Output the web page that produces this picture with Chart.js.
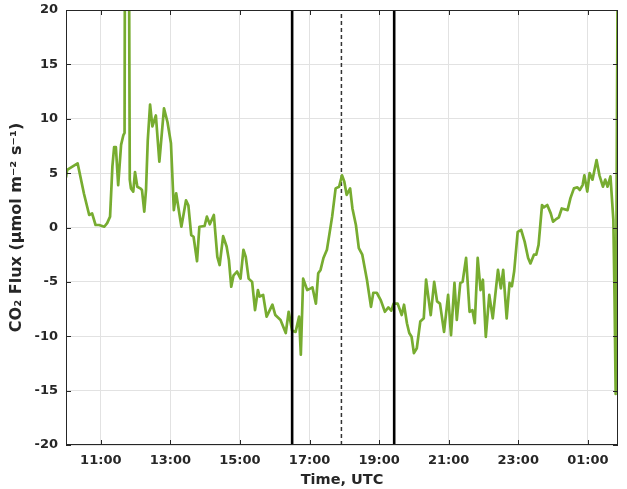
<!DOCTYPE html>
<html><head><meta charset="utf-8">
<script src="https://cdn.jsdelivr.net/npm/chart.js@4/dist/chart.umd.min.js"></script>
<style>html,body{margin:0;padding:0;background:#fff}#wrap{width:627px;height:489px;position:relative}</style>
</head><body><div id="wrap"><canvas id="c" width="627" height="489"></canvas></div>
<script>
// Time stamps (UTC, HH:MM; times after midnight belong to the next day)
const times = [
 "10:00","10:02","10:20","10:22","10:31","10:40","10:45","10:51","10:57",
 "11:06","11:11","11:16","11:20","11:23","11:26","11:30","11:35","11:39","11:41","11:42","11:48","11:50","11:52","11:56","11:59",
 "12:03","12:08","12:11","12:15","12:18","12:21","12:25","12:29","12:35","12:41","12:49","12:55",
 "13:01","13:06","13:10","13:19","13:27","13:31","13:36","13:40","13:46","13:50","13:59",
 "14:03","14:08","14:15","14:21","14:25","14:31","14:37","14:41","14:45","14:49","14:55",
 "15:01","15:06","15:10","15:15","15:21","15:26","15:31","15:34","15:40","15:46","15:56",
 "16:01","16:10","16:19","16:24","16:30","16:36","16:42","16:45","16:49","16:56",
 "17:02","17:05","17:11","17:15","17:19","17:24","17:30","17:34","17:39","17:45","17:51","17:56",
 "18:00","18:04","18:10","18:14","18:20","18:25","18:31","18:39","18:46","18:50","18:56",
 "19:03","19:10","19:16","19:21","19:25","19:32","19:39","19:43","19:48","19:52","19:56",
 "20:00","20:05","20:11","20:17","20:21","20:29","20:35","20:40","20:45","20:52","20:59",
 "21:04","21:10","21:14","21:20","21:24","21:30","21:36","21:41","21:45","21:50","21:55","21:59",
 "22:04","22:10","22:16","22:25","22:30","22:34","22:40","22:45","22:49","22:53","22:59",
 "23:05","23:11","23:17","23:21","23:27","23:31","23:35","23:41","23:44","23:50","23:56",
 "00:00","00:06","00:10","00:15","00:25","00:30","00:36","00:42","00:46","00:51","00:54","00:59",
 "01:03","01:08","01:15","01:20","01:26","01:30","01:34","01:39","01:44","01:46","01:48","01:52"
];
// CO2 flux (µmol m-2 s-1)
const flux = [
 4.6,5.3,5.9,5.4,3.1,1.15,1.3,0.23,0.23,
 0.07,0.4,1.0,5.6,7.4,7.4,3.9,7.6,8.5,8.7,35,35,4.4,3.6,3.3,5.1,
 3.75,3.6,3.45,1.45,3.45,8.0,11.3,9.3,10.3,6.05,10.95,9.7,
 7.75,1.6,3.15,0.07,2.5,2.05,-0.7,-0.85,-3.1,0.07,0.14,
 1.0,0.3,1.15,-2.7,-3.45,-0.8,-1.75,-3.0,-5.45,-4.4,-4.05,
 -4.7,-2.05,-2.7,-4.7,-5.0,-7.6,-5.75,-6.35,-6.2,-8.2,-7.1,
 -8.05,-8.5,-9.7,-7.75,-9.5,-9.6,-8.2,-11.7,-4.7,-5.75,
 -5.6,-5.5,-7.0,-4.2,-3.9,-2.8,-2.05,-0.7,1.0,3.6,3.75,4.8,
 4.2,3.0,3.6,1.75,0.23,-1.9,-2.5,-4.8,-7.3,-6.0,-6.0,
 -6.7,-7.75,-7.35,-7.65,-7.0,-7.0,-8.05,-7.1,-8.8,-9.7,-10.05,
 -11.55,-11.1,-8.65,-8.35,-4.8,-8.05,-5.0,-6.8,-7.0,-9.6,-6.2,
 -9.9,-5.1,-8.5,-5.1,-5.0,-2.8,-7.75,-7.6,-8.8,-2.8,-5.75,-4.8,
 -10.05,-6.2,-8.35,-3.9,-5.6,-3.9,-8.35,-5.1,-5.4,-4.0,-0.4,
 -0.23,-1.3,-2.8,-3.3,-2.5,-2.5,-1.6,2.07,1.85,2.07,1.3,
 0.53,0.8,0.94,1.75,1.6,2.7,3.6,3.7,3.45,3.9,4.8,3.3,
 5.0,4.4,6.2,4.8,3.75,4.4,3.75,4.7,0.7,-6.35,-15.3,30
];
// Axis ticks
const xTickTimes = ["11:00","13:00","15:00","17:00","19:00","21:00","23:00","01:00"];
const yTickValues = [-20,-15,-10,-5,0,5,10,15,20];
const xRange = ["10:00","01:52"];
const yRange = [-20,20];
// Marker lines
const solidMarkers = ["16:30","19:26"];
const dashedMarkers = ["17:55"];

function toH(s){ const [h,m]=s.split(":").map(Number); let v=h+m/60; if(h<10) v+=24; return v; }
function fmt(v){ const h=Math.round(v)%24; return (h<10?"0":"")+h+":00"; }

const FONT = "'DejaVu Sans', sans-serif";
const TXT = "#262626";

const datasets = [];
solidMarkers.forEach(t=>datasets.push({data:[{x:toH(t),y:yRange[0]},{x:toH(t),y:yRange[1]}],borderColor:"#000",borderWidth:2.6,pointRadius:0,order:0}));
datasets.push({data:times.map((t,i)=>({x:toH(t),y:flux[i]})),borderColor:"#77AC30",borderWidth:2.7,pointRadius:0,tension:0,order:1,borderJoinStyle:"round"});
dashedMarkers.forEach(t=>datasets.push({data:[{x:toH(t),y:yRange[0]},{x:toH(t),y:yRange[1]}],borderColor:"#333",borderWidth:1.5,borderDash:[4,3],pointRadius:0,order:2}));

const boxPlugin = {
 id:"box",
 afterDatasetsDraw(chart){
  const {ctx, chartArea:a, scales:{x,y}} = chart;
  ctx.save();
  ctx.strokeStyle = TXT; ctx.lineWidth = 1;
  ctx.strokeRect(a.left+0.5, a.top+0.5, a.right-a.left-1, a.bottom-a.top-1);
  ctx.beginPath();
  xTickTimes.forEach(t=>{ const px=Math.round(x.getPixelForValue(toH(t)))+0.5;
   ctx.moveTo(px,a.bottom); ctx.lineTo(px,a.bottom-5);
   ctx.moveTo(px,a.top); ctx.lineTo(px,a.top+5); });
  yTickValues.forEach(v=>{ const py=Math.round(y.getPixelForValue(v))+0.5;
   ctx.moveTo(a.left,py); ctx.lineTo(a.left+5,py);
   ctx.moveTo(a.right,py); ctx.lineTo(a.right-5,py); });
  ctx.stroke();
  ctx.restore();
 }
};

new Chart(document.getElementById("c"),{
 type:"line",
 data:{datasets},
 plugins:[boxPlugin],
 options:{
  responsive:false, animation:false, devicePixelRatio:1,
  layout:{padding:{top:10,right:9,left:0,bottom:0}},
  plugins:{legend:{display:false},tooltip:{enabled:false}},
  scales:{
   x:{type:"linear",min:toH(xRange[0]),max:toH(xRange[1]),
    afterFit(s){s.height=44;s.paddingLeft=0;s.paddingRight=0;},
    afterBuildTicks(s){s.ticks=xTickTimes.map(t=>({value:toH(t)}));},
    grid:{color:"#e2e2e2",drawTicks:false},border:{display:false},
    ticks:{callback:fmt,font:{family:FONT,weight:"bold",size:13},color:TXT,padding:8,maxRotation:0,autoSkip:false},
    title:{display:true,text:"Time, UTC",font:{family:FONT,weight:"bold",size:14.5},color:TXT,padding:{top:0,bottom:0}}
   },
   y:{min:yRange[0],max:yRange[1],
    afterFit(s){s.width=66;s.paddingTop=0;s.paddingBottom=0;},
    afterBuildTicks(s){s.ticks=yTickValues.map(v=>({value:v}));},
    grid:{color:"#e2e2e2",drawTicks:false},border:{display:false},
    ticks:{font:{family:FONT,weight:"bold",size:13},color:TXT,padding:8},
    title:{display:true,text:"CO₂ Flux (μmol m⁻² s⁻¹)",font:{family:FONT,weight:"bold",size:16},color:TXT,padding:{top:7,bottom:0}}
   }
  }
 }
});
</script></body></html>
